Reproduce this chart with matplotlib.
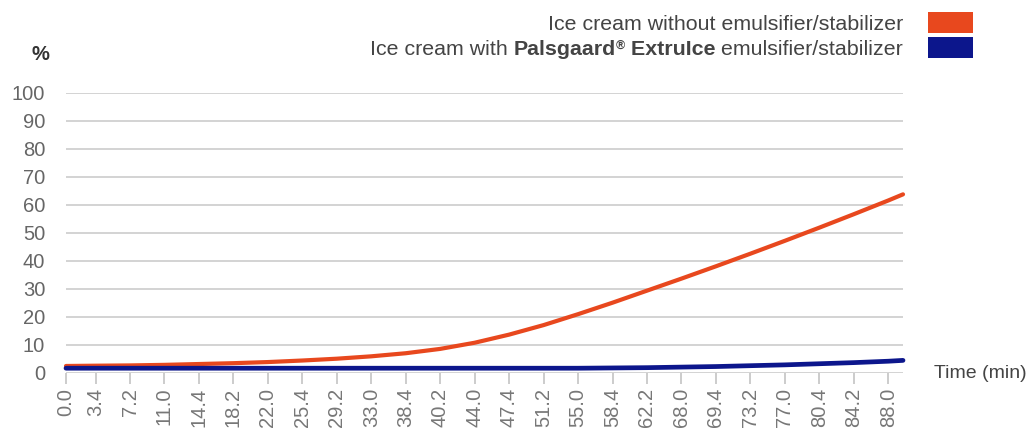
import matplotlib
matplotlib.use("Agg")
import matplotlib.pyplot as plt
from matplotlib.patches import Rectangle

# Time axis: samples are evenly spaced, every 7th sample is labelled
tick_labels = ["0.0", "3.4", "7.2", "11.0", "14.4", "18.2", "22.0", "25.4", "29.2",
               "33.0", "38.4", "40.2", "44.0", "47.4", "51.2", "55.0", "58.4", "62.2",
               "68.0", "69.4", "73.2", "77.0", "80.4", "84.2", "88.0"]
tick_samples = [0] + [6 + 7 * k for k in range(24)]
samples = tick_samples + [170]

# Melted fraction (%) at each sample
without_es = [2.4, 2.5, 2.6, 2.8, 3.1, 3.4, 3.8, 4.35, 5.0, 5.85, 6.95, 8.5, 10.7,
              13.6, 17.0, 20.9, 25.0, 29.3, 33.6, 38.0, 42.5, 47.1, 51.8, 56.6, 61.5, 63.7]
with_extruice = [1.6, 1.6, 1.6, 1.6, 1.6, 1.6, 1.6, 1.6, 1.6, 1.6, 1.6, 1.6, 1.6,
                 1.6, 1.6, 1.6, 1.7, 1.8, 2.0, 2.2, 2.5, 2.8, 3.2, 3.6, 4.1, 4.4]

series_labels = ["Ice cream without emulsifier/stabilizer",
                 "Ice cream with Palsgaard® ExtruIce emulsifier/stabilizer"]
colors = ["#E8481E", "#0C168C"]
yticks = list(range(0, 101, 10))

FONT = "Liberation Sans"
W, H = 1031, 430
fig = plt.figure(figsize=(W / 100, H / 100), dpi=100)
ax = fig.add_axes([66 / W, (H - 372.7) / H, (903 - 66) / W, 280 / H])

ax.set_xlim(0, 170)
ax.set_ylim(0, 100)
for s in ax.spines.values():
    s.set_visible(False)

ax.set_yticks(yticks)
ax.set_yticklabels([str(v) for v in yticks], fontfamily=FONT, fontsize=14.5, color="#666666")
ax.yaxis.grid(True, color="#c8c8c8", linewidth=1.1)
ax.set_axisbelow(True)
ax.tick_params(axis="y", length=0, pad=15)

ax.set_xticks(tick_samples)
ax.set_xticklabels(tick_labels, rotation=90, fontfamily=FONT, fontsize=14.5, color="#777777")
ax.tick_params(axis="x", length=8, width=1.2, color="#c4c4c4", pad=3)

ax.plot(samples, without_es, color=colors[0], linewidth=3.0, solid_capstyle="round",
        label=series_labels[0], zorder=3, clip_on=False)
ax.plot(samples, with_extruice, color=colors[1], linewidth=3.4, solid_capstyle="round",
        label=series_labels[1], zorder=4, clip_on=False)

# Axis captions
fig.text(40 / W, (H - 55) / H, "%", fontfamily=FONT, fontsize=14.5, fontweight="bold",
         color="#333333", ha="center", va="center")
fig.text(1027 / W, (H - 374) / H, "Time (min)", fontfamily=FONT, fontsize=14,
         color="#444444", ha="right", va="center")

# Legend: right-aligned text with swatches on the right
renderer = fig.canvas.get_renderer()


def right_aligned_pieces(pieces, x_right, y_base):
    x = x_right
    for txt, weight, size, dy in reversed(pieces):
        t = fig.text(x / W, (y_base + dy) / H, txt, fontfamily=FONT, fontsize=size,
                     fontweight=weight, color="#444444", ha="right", va="baseline")
        bb = t.get_window_extent(renderer=renderer)
        x = bb.x0


right_aligned_pieces([(series_labels[0], "normal", 15.4, 0)], 903, H - 30)
right_aligned_pieces([("Ice cream with ", "normal", 15.4, 0),
                      ("Palsgaard", "bold", 15.4, 0),
                      ("®", "bold", 9, 6),
                      (" ExtruIce", "bold", 15.4, 0),
                      (" emulsifier/stabilizer", "normal", 15.4, 0)], 903, H - 55)

fig.patches.append(Rectangle((928 / W, (H - 33) / H), 45 / W, 21 / H,
                             transform=fig.transFigure, facecolor=colors[0], edgecolor="none"))
fig.patches.append(Rectangle((928 / W, (H - 58) / H), 45 / W, 21 / H,
                             transform=fig.transFigure, facecolor=colors[1], edgecolor="none"))

fig.savefig("out.png", dpi=100, facecolor="white")
